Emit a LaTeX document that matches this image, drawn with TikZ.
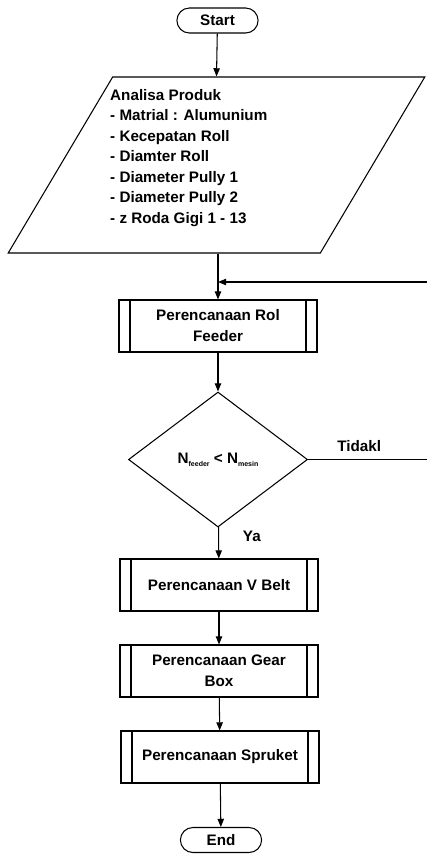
\documentclass[tikz,border=0pt]{standalone}
\usepackage{fontspec}
\setmainfont{Liberation Sans}
\usepackage{tikz}
\usetikzlibrary{shapes, shapes.geometric, shapes.misc}
\usetikzlibrary{arrows,arrows.meta}
\tikzset{
  flow/.style={line width=0.9pt, -{Triangle[length=7pt,width=5.5pt]}},
  terminal/.style={draw, line width=0.9pt, rounded rectangle, minimum width=2.67cm, minimum height=0.75cm},
  inout/.style={draw, line width=0.9pt, trapezium, trapezium stretches=true, trapezium left angle=63.3, trapezium right angle=116.7, minimum width=12.51cm, minimum height=5.28cm},
  process/.style={draw, line width=0.9pt, rectangle, align=center, minimum width=5.94cm, minimum height=1.56cm,
    path picture={\draw[line width=0.9pt] ([xshift=0.33cm]path picture bounding box.north west) -- ([xshift=0.33cm]path picture bounding box.south west)
      ([xshift=-0.33cm]path picture bounding box.north east) -- ([xshift=-0.33cm]path picture bounding box.south east);}},
  decision/.style={draw, line width=0.9pt, diamond, minimum width=5.37cm, minimum height=4.05cm, inner sep=0pt}
}
\newcommand{\sub}[1]{\raisebox{-0.35ex}{\fontsize{6}{6}\selectfont #1}}

\begin{document}
\begin{tikzpicture}[x=0.03cm, y=-0.03cm, every node/.style={font=\fontsize{13}{18}\selectfont\bfseries}]
\useasboundingbox (0,0) rectangle (427,856);
\node[terminal] (start) at (217.5,20.5) {Start};
\node[inout] (prod) at (216.5,165) {};
\node[anchor=north west, align=left, inner sep=0pt, font=\fontsize{13}{17.5}\selectfont\bfseries] (prodtext) at (110,89)
  {Analisa Produk\\- Matrial : Alumunium\\- Kecepatan Roll\\- Diamter Roll\\- Diameter Pully 1\\- Diameter Pully 2\\- z Roda Gigi 1 - 13};
\node[process] (feeder) at (218,326) {Perencanaan Rol\\Feeder};
\node[decision] (cek) at (218,459.5) {N\sub{feeder} < N\sub{mesin}};
\node[process] (belt) at (219,585) {Perencanaan V Belt};
\node[process] (gear) at (219,671) {Perencanaan Gear\\Box};
\node[process] (spruket) at (220,757) {Perencanaan Spruket};
\node[terminal] (end) at (221,840) {End};
\coordinate (join) at (218,282);
\coordinate (back) at (436,282);

\draw[flow] (start) -- (prod.south |- prod.north);
\draw[flow] (prod.south -| feeder.north) -- (feeder);
\draw[flow] (feeder) -- (cek);
\draw[flow] (cek) -- (belt) node[pos=0.3, right=17pt] {Ya};
\draw[flow] (belt) -- (gear);
\draw[flow] (gear) -- (spruket);
\draw[flow] (spruket) -- (end);
\draw[flow] (cek.east) -- (cek.east -| back) node[pos=0.4, above=3pt] {Tidakl} -- (back) -- (join);
\end{tikzpicture}
\end{document}
